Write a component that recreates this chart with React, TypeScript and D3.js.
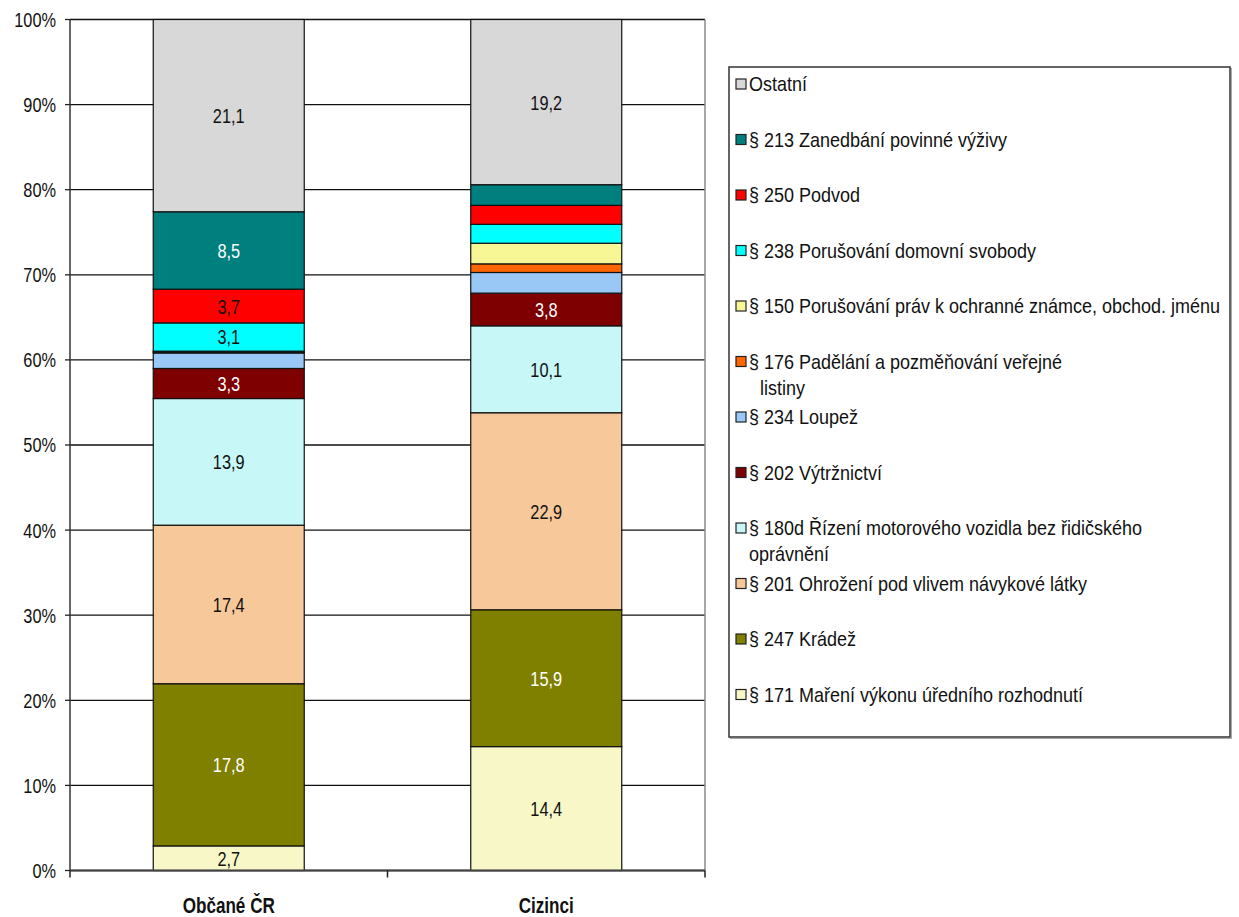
import React from "react";
import * as d3 from "d3";

// Categories (bars) and offence series, listed bottom-to-top in the stack
const categories = ["Občané ČR", "Cizinci"];

const seriesNames = [
  "§ 171 Maření výkonu úředního rozhodnutí",
  "§ 247 Krádež",
  "§ 201 Ohrožení pod vlivem návykové látky",
  "§ 180d Řízení motorového vozidla bez řidičského oprávnění",
  "§ 202 Výtržnictví",
  "§ 234 Loupež",
  "§ 176 Padělání a pozměňování veřejné listiny",
  "§ 150 Porušování práv k ochranné známce, obchod. jménu",
  "§ 238 Porušování domovní svobody",
  "§ 250 Podvod",
  "§ 213 Zanedbání povinné výživy",
  "Ostatní",
];

// Legend text, wrapped as in the legend box
const legendLines = [
  ["§ 171 Maření výkonu úředního rozhodnutí"],
  ["§ 247 Krádež"],
  ["§ 201 Ohrožení pod vlivem návykové látky"],
  ["§ 180d Řízení motorového vozidla bez řidičského", "oprávnění"],
  ["§ 202 Výtržnictví"],
  ["§ 234 Loupež"],
  ["§ 176 Padělání a pozměňování veřejné", "listiny"],
  ["§ 150 Porušování práv k ochranné známce, obchod. jménu"],
  ["§ 238 Porušování domovní svobody"],
  ["§ 250 Podvod"],
  ["§ 213 Zanedbání povinné výživy"],
  ["Ostatní"],
];

// Shares (%) per series for each category
const obcaneValues = [2.7, 17.8, 17.4, 13.9, 3.3, 1.7, 0.1, 0.1, 3.1, 3.7, 8.5, 21.1];
const ciziValues = [14.4, 15.9, 22.9, 10.1, 3.8, 2.4, 1.0, 2.4, 2.2, 2.2, 2.4, 19.2];

const yTicks = [0, 10, 20, 30, 40, 50, 60, 70, 80, 90, 100];

const colors = [
  "#F7F7C8",
  "#7F7F00",
  "#F7C89A",
  "#C8F7F7",
  "#7F0000",
  "#99C8F7",
  "#FF6600",
  "#F7F796",
  "#00FFFF",
  "#FF0000",
  "#007F7F",
  "#D8D8D8",
];
const darkSeries = new Set([1, 4, 10]);

const W = 1239;
const H = 917;
const plot = { left: 70, right: 705, top: 19.5, bottom: 870.5 };
const FONT = "'Liberation Sans', Arial, sans-serif";

// Text drawn slightly taller than wide, like the narrow GDI rendering
function Tall({
  x,
  y,
  sx = 0.96,
  sy = 1.22,
  anchor = "middle",
  size = 17,
  weight = "normal",
  fill = "#111",
  children,
}: any) {
  return (
    <g transform={`translate(${x},${y}) scale(${sx},${sy})`}>
      <text x={0} y={0} dy="0.36em" textAnchor={anchor} fontSize={size} fontWeight={weight} fill={fill}>
        {children}
      </text>
    </g>
  );
}

export default function App() {
  const rows = categories.map((c, ci) => {
    const vals = ci === 0 ? obcaneValues : ciziValues;
    const row: Record<string, any> = { category: c };
    seriesNames.forEach((s, i) => (row[s] = vals[i]));
    return row;
  });

  const stacked = d3
    .stack<any>()
    .keys(seriesNames)
    .offset(d3.stackOffsetExpand)(rows);

  const x = d3
    .scaleBand<string>()
    .domain(categories)
    .range([plot.left, plot.right])
    .paddingInner(0.5244)
    .paddingOuter(0.2622);

  const y = d3.scaleLinear().domain([0, 1]).range([plot.bottom, plot.top]);
  const yPct = d3.scaleLinear().domain([0, 100]).range([plot.bottom, plot.top]);

  const legend = { x: 729, y: 67, w: 501, h: 670 };
  const itemY0 = 84;
  const itemStep = 55.5;
  const wrapIndent: Record<number, number> = { 6: 11, 3: 0 };

  const fmt = (v: number) => v.toFixed(1).replace(".", ",");

  return (
    <svg
      width={W}
      height={H}
      style={{ position: "absolute", left: 0, top: 0, background: "#fff" }}
      fontFamily={FONT}
    >
      <rect x={0} y={0} width={W} height={H} fill="#fff" />

      {/* gridlines */}
      {yTicks.map((t) => (
        <line
          key={"g" + t}
          x1={plot.left}
          x2={plot.right}
          y1={yPct(t)}
          y2={yPct(t)}
          stroke="#111"
          strokeWidth={1.3}
        />
      ))}
      {/* plot area right border */}
      <line x1={plot.right} x2={plot.right} y1={plot.top} y2={plot.bottom} stroke="#8a8a8a" strokeWidth={1.5} />

      {/* y axis */}
      <line x1={plot.left} x2={plot.left} y1={plot.top} y2={plot.bottom} stroke="#333" strokeWidth={1.5} />
      {yTicks.map((t) => (
        <g key={"t" + t}>
          <line x1={plot.left - 5} x2={plot.left} y1={yPct(t)} y2={yPct(t)} stroke="#222" strokeWidth={1.3} />
          <Tall x={56} y={yPct(t)} anchor="end" size={17}>
            {t}%
          </Tall>
        </g>
      ))}

      {/* stacked bars */}
      {stacked.map((layer, si) => (
        <g key={layer.key}>
          {layer.map((d, ci) => {
            const cat = categories[ci];
            const y0 = y(d[0]);
            const y1 = y(d[1]);
            const raw = (ci === 0 ? obcaneValues : ciziValues)[si];
            return (
              <g key={cat}>
                <rect
                  x={x(cat)}
                  y={y1}
                  width={x.bandwidth()}
                  height={Math.max(0, y0 - y1)}
                  fill={colors[si]}
                  stroke="#111"
                  strokeWidth={1.2}
                />
                {raw >= 2.5 && (
                  <Tall
                    x={(x(cat) as number) + x.bandwidth() / 2}
                    y={(y0 + y1) / 2}
                    size={17}
                    fill={darkSeries.has(si) ? "#fff" : "#111"}
                  >
                    {fmt(raw)}
                  </Tall>
                )}
              </g>
            );
          })}
        </g>
      ))}

      {/* x axis */}
      <line x1={plot.left} x2={plot.right} y1={plot.bottom} y2={plot.bottom} stroke="#444" strokeWidth={2} />
      {[plot.left, (plot.left + plot.right) / 2, plot.right].map((tx, i) => (
        <line key={"xt" + i} x1={tx} x2={tx} y1={plot.bottom} y2={plot.bottom + 7} stroke="#222" strokeWidth={1.5} />
      ))}
      {categories.map((c) => (
        <Tall
          key={c}
          x={(x(c) as number) + x.bandwidth() / 2}
          y={905}
          sx={0.95}
          sy={1.2}
          size={18}
          weight="bold"
        >
          {c}
        </Tall>
      ))}

      {/* legend */}
      <rect x={legend.x + 1.5} y={legend.y + 1.5} width={legend.w} height={legend.h} fill="none" stroke="#aaa" strokeWidth={1} />
      <rect x={legend.x} y={legend.y} width={legend.w} height={legend.h} fill="#fff" stroke="#333" strokeWidth={1.5} />
      {seriesNames
        .map((s, i) => i)
        .reverse()
        .map((si, k) => {
          const cy = itemY0 + k * itemStep;
          return (
            <g key={"lg" + si}>
              <rect x={736} y={cy - 5} width={10} height={10} fill={colors[si]} stroke="#222" strokeWidth={1.2} />
              {legendLines[si].map((line, li) => (
                <Tall
                  key={li}
                  x={749 + (li > 0 ? wrapIndent[si] || 0 : 0)}
                  y={cy + li * 26}
                  sx={1}
                  sy={1.08}
                  anchor="start"
                  size={18}
                >
                  {line}
                </Tall>
              ))}
            </g>
          );
        })}
    </svg>
  );
}
